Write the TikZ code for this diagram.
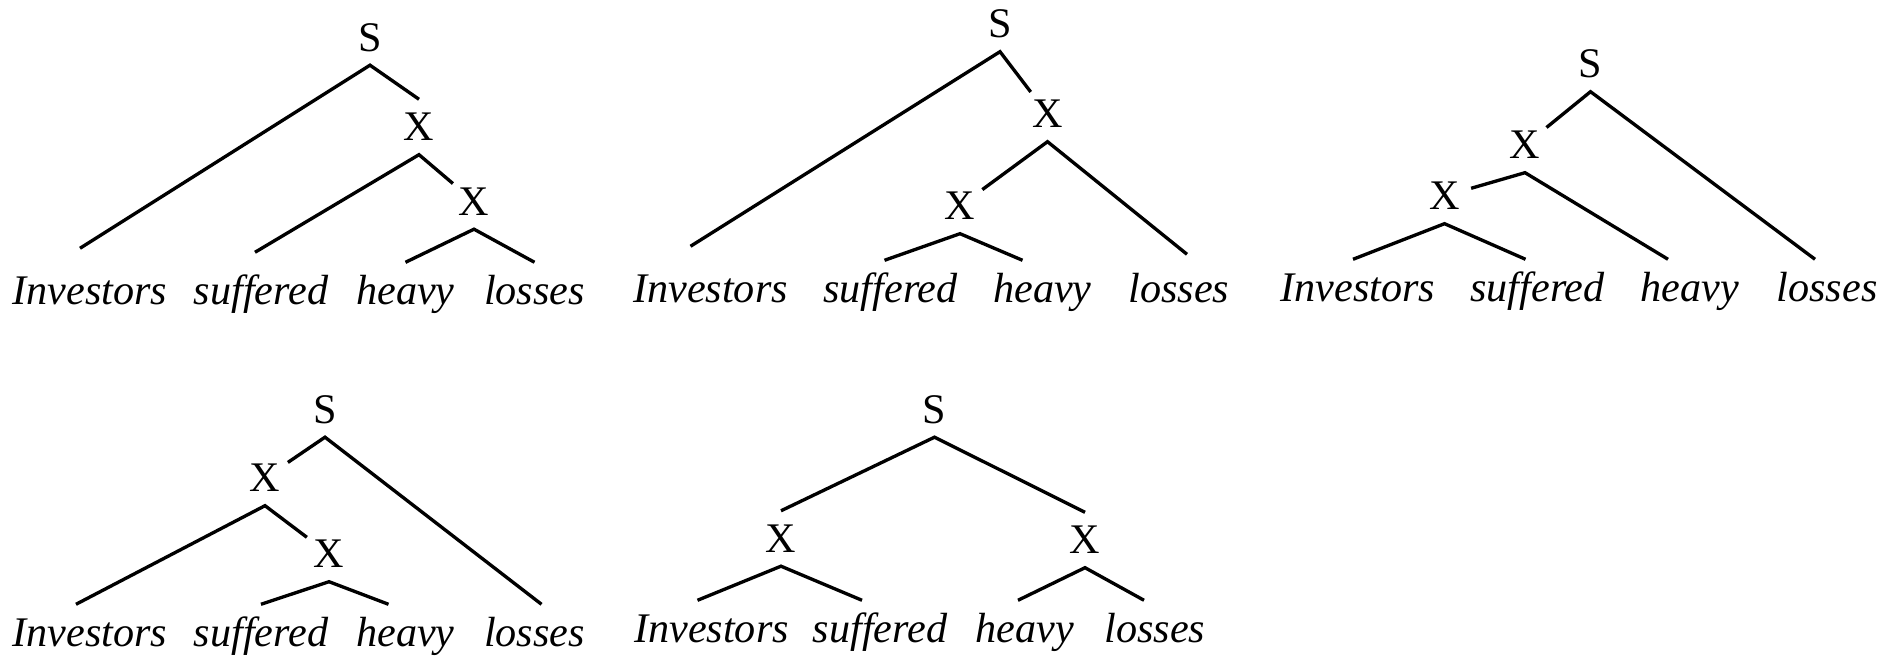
\documentclass[tikz,border=0pt]{standalone}
\usepackage{fontspec}
\setmainfont{Liberation Serif}

\begin{document}
\begin{tikzpicture}[
  cat/.style={circle, inner sep=0pt, minimum size=0.54cm, text height=0.28cm, text depth=0pt, font=\fontsize{12}{14}\selectfont},
  word/.style={anchor=base, inner xsep=0pt, inner ysep=0.14cm, text height=0.28cm, text depth=0pt, font=\fontsize{12}{14}\selectfont\itshape},
  branch/.style={line width=0.95pt}]
  \useasboundingbox (0,0) rectangle (19,6.56);
  % Tree 1: right branching
  \node[cat] (t1s) at (3.70,6.185) {S};
  \node[cat] (t1x1) at (4.19,5.29) {X};
  \node[cat] (t1x2) at (4.74,4.545) {X};
  \node[word] (t1w1) at (0.90,3.51) {Investors};
  \node[word] (t1w2) at (2.61,3.51) {suffered};
  \node[word] (t1w3) at (4.055,3.51) {heavy};
  \node[word] (t1w4) at (5.345,3.51) {losses};
  \draw[branch] ([shift={(-0.1,0.14)}]t1w1.north) -- (t1s.south) -- (t1x1.north);
  \draw[branch] ([shift={(-0.06,0.1)}]t1w2.north) -- (t1x1.south) -- (t1x2);
  \draw[branch] (t1w3.north) -- (t1x2.south) -- (t1w4.north);
  % Tree 2
  \node[cat] (t2s) at (10.00,6.32) {S};
  \node[cat] (t2x1) at (10.475,5.42) {X};
  \node[cat] (t2x2) at (9.60,4.50) {X};
  \node[word] (t2w1) at (7.105,3.53) {Investors};
  \node[word] (t2w2) at (8.905,3.53) {suffered};
  \node[word] (t2w3) at (10.425,3.53) {heavy};
  \node[word] (t2w4) at (11.79,3.53) {losses};
  \draw[branch] ([shift={(-0.2,0.14)}]t2w1.north) -- (t2s.south) -- (t2x1);
  \draw[branch] (t2x2) -- (t2x1.south) -- ([shift={(0.08,0.06)}]t2w4.north);
  \draw[branch] ([xshift=-0.06cm]t2w2.north) -- (t2x2.south) -- ([xshift=-0.2cm]t2w3.north);
  % Tree 3: left branching
  \node[cat] (t3s) at (15.905,5.92) {S};
  \node[cat] (t3x1) at (15.25,5.11) {X};
  \node[cat] (t3x2) at (14.445,4.60) {X};
  \node[word] (t3w1) at (13.58,3.54) {Investors};
  \node[word] (t3w2) at (15.375,3.54) {suffered};
  \node[word] (t3w3) at (16.90,3.54) {heavy};
  \node[word] (t3w4) at (18.27,3.54) {losses};
  \draw[branch] (t3x1) -- (t3s.south) -- ([xshift=-0.12cm]t3w4.north);
  \draw[branch] (t3x2) -- (t3x1.south) -- ([xshift=-0.22cm]t3w3.north);
  \draw[branch] ([xshift=-0.05cm]t3w1.north) -- (t3x2.south) -- ([xshift=-0.12cm]t3w2.north);
  % Tree 4
  \node[cat] (t4s) at (3.25,2.465) {S};
  \node[cat] (t4x1) at (2.65,1.78) {X};
  \node[cat] (t4x2) at (3.29,1.02) {X};
  \node[word] (t4w1) at (0.90,0.09) {Investors};
  \node[word] (t4w2) at (2.61,0.09) {suffered};
  \node[word] (t4w3) at (4.055,0.09) {heavy};
  \node[word] (t4w4) at (5.345,0.09) {losses};
  \draw[branch] (t4x1) -- (t4s.south) -- ([xshift=0.07cm]t4w4.north);
  \draw[branch] ([xshift=-0.14cm]t4w1.north) -- (t4x1.south) -- (t4x2);
  \draw[branch] (t4w2.north) -- (t4x2.south) -- ([xshift=-0.17cm]t4w3.north);
  % Tree 5: balanced
  \node[cat] (t5s) at (9.345,2.465) {S};
  \node[cat] (t5x1) at (7.81,1.175) {X};
  \node[cat] (t5x2) at (10.85,1.16) {X};
  \node[word] (t5w1) at (7.115,0.13) {Investors};
  \node[word] (t5w2) at (8.80,0.13) {suffered};
  \node[word] (t5w3) at (10.25,0.13) {heavy};
  \node[word] (t5w4) at (11.55,0.13) {losses};
  \draw[branch] (t5x1.north) -- (t5s.south) -- (t5x2.north);
  \draw[branch] ([xshift=-0.14cm]t5w1.north) -- (t5x1.south) -- ([xshift=-0.18cm]t5w2.north);
  \draw[branch] ([xshift=-0.07cm]t5w3.north) -- (t5x2.south) -- ([xshift=-0.11cm]t5w4.north);
\end{tikzpicture}
\end{document}
